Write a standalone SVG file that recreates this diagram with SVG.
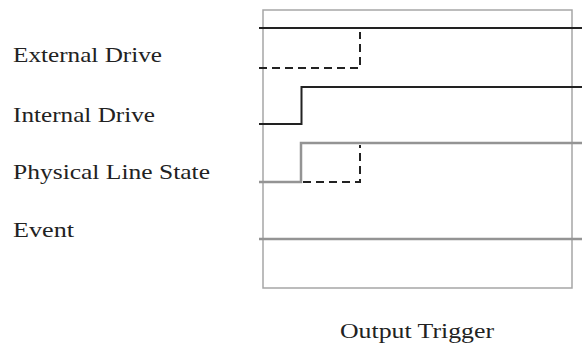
<svg xmlns="http://www.w3.org/2000/svg" width="582" height="351" viewBox="0 0 582 351">
<style>
text{font-family:"Liberation Serif","Times New Roman",serif;font-size:21px;fill:#222}
.frame{fill:none;stroke:#a6a6a6;stroke-width:1.5}
.blk{fill:none;stroke:#222;stroke-width:2}
.dash{fill:none;stroke:#222;stroke-width:2;stroke-dasharray:8,5}
.gry{fill:none;stroke:#949494;stroke-width:2.5}
</style>
<rect width="582" height="351" fill="#fff"/>
<g id="frame"><rect class="frame" x="263" y="10" width="309" height="278"/></g>
<g id="labels">
<text x="13" y="62" textLength="149" lengthAdjust="spacingAndGlyphs">External Drive</text>
<text x="13" y="122" textLength="142" lengthAdjust="spacingAndGlyphs">Internal Drive</text>
<text x="13" y="179" textLength="197" lengthAdjust="spacingAndGlyphs">Physical Line State</text>
<text x="13" y="237" textLength="61" lengthAdjust="spacingAndGlyphs">Event</text>
<text x="340" y="338" textLength="154" lengthAdjust="spacingAndGlyphs">Output Trigger</text>
</g>
<g id="connectors">
<path class="blk" d="M259 28H582"/>
<path class="dash" d="M259 68H360V32"/>
<path class="blk" d="M259 124H301.5V87H582"/>
<path class="gry" d="M259 182H301V143H582"/>
<path class="dash" d="M303 182H360V145"/>
<path class="gry" d="M259 239H582"/>
</g>
</svg>
